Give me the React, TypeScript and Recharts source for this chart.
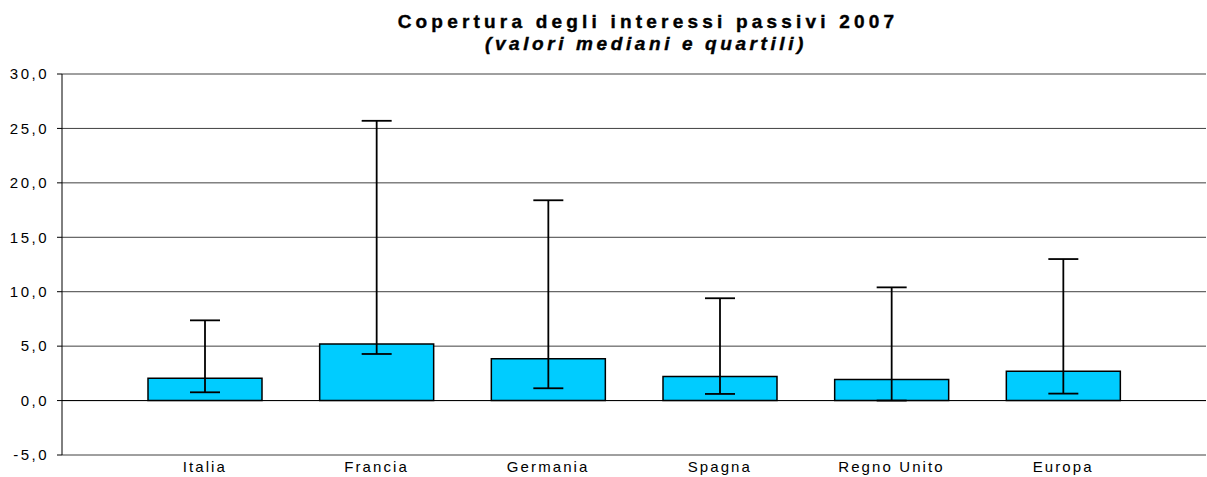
import { BarChart, Bar, XAxis, YAxis, CartesianGrid, ErrorBar, ReferenceLine } from 'recharts';

const countries = ['Italia', 'Francia', 'Germania', 'Spagna', 'Regno Unito', 'Europa'];
const medians = [2.05, 5.2, 3.85, 2.2, 1.93, 2.69];
const firstQuartile = [0.76, 4.28, 1.13, 0.61, 0.0, 0.64];
const thirdQuartile = [7.37, 25.7, 18.4, 9.4, 10.4, 13.0];
const yTicks = [-5, 0, 5, 10, 15, 20, 25, 30];

const data = countries.map((name, i) => ({
  name,
  median: medians[i],
  range: [medians[i] - firstQuartile[i], thirdQuartile[i] - medians[i]],
}));

const labelStyle = { fill: '#000', fontSize: 15, fontFamily: 'Liberation Sans, Arial, sans-serif', letterSpacing: 2.1 };

export default function App() {
  return (
    <div style={{ position: 'relative', width: 1207, height: 477 }}>
      <style>{'body{margin:0}'}</style>
      <svg width={1207} height={60} style={{ position: 'absolute', left: 0, top: 0 }}>
        <text
          x={648}
          y={27.5}
          textAnchor="middle"
          fontFamily="Liberation Sans, Arial, sans-serif"
          fontWeight="bold"
          fontSize={19}
          letterSpacing={4.2}
          stroke="#000"
          strokeWidth={0.4}
        >
          Copertura degli interessi passivi 2007
        </text>
        <text
          x={646}
          y={50}
          textAnchor="middle"
          fontFamily="Liberation Sans, Arial, sans-serif"
          fontWeight="bold"
          fontStyle="italic"
          fontSize={19}
          letterSpacing={3.6}
          stroke="#000"
          strokeWidth={0.4}
        >
          (valori mediani e quartili)
        </text>
      </svg>
      <BarChart width={1207} height={477} data={data} margin={{ top: 74, right: 1, bottom: 0, left: 0 }}>
        <CartesianGrid vertical={false} stroke="#404040" strokeWidth={1} />
        <XAxis
          dataKey="name"
          height={22}
          padding={{ left: 57, right: 57 }}
          axisLine={false}
          tickLine={false}
          tickSize={0}
          tickMargin={6}
          tick={labelStyle}
          interval={0}
        />
        <YAxis
          width={62}
          domain={[-5, 30]}
          ticks={yTicks}
          interval={0}
          axisLine={{ stroke: '#000' }}
          tickLine={{ stroke: '#000' }}
          tickSize={5}
          tickMargin={8}
          tick={{ ...labelStyle, letterSpacing: 2.5 }}
          tickFormatter={(v: number) => v.toFixed(1).replace('.', ',')}
        />
        <ReferenceLine y={0} stroke="#000" />
        <Bar dataKey="median" fill="#00CCFF" stroke="#000" strokeWidth={1.5} barSize={114} isAnimationActive={false}>
          <ErrorBar dataKey="range" width={15} stroke="#000" strokeWidth={1.8} direction="y" />
        </Bar>
      </BarChart>
    </div>
  );
}
